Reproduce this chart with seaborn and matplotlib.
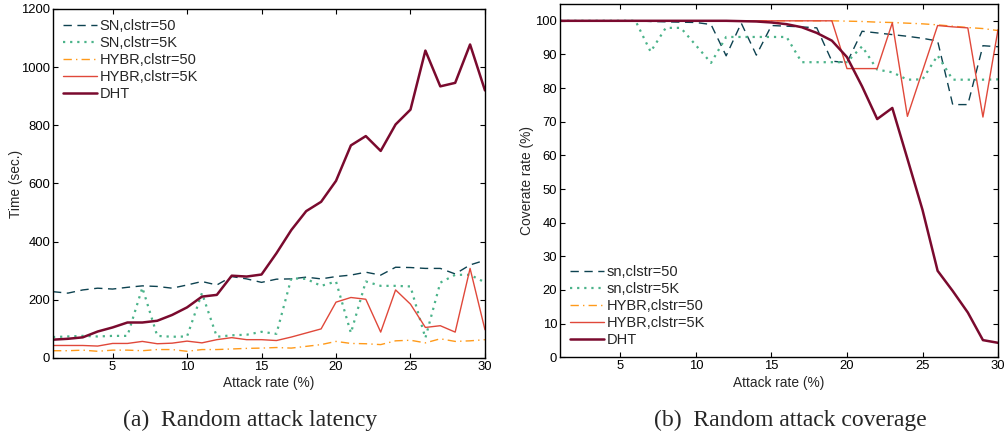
import numpy as np
import pandas as pd
import matplotlib
matplotlib.use("Agg")
import matplotlib.pyplot as plt
import seaborn as sns

attack_rate = list(range(1, 31))

# (a) latency, seconds
lat_sn50 = [228, 223, 234, 240, 237, 243, 248, 246, 240, 251, 263, 251, 280, 272, 260,
            271, 272, 278, 272, 280, 285, 295, 285, 312, 311, 308, 308, 289, 320, 336]
lat_sn5k = [72, 74, 76, 74, 76, 76, 242, 76, 73, 74, 223, 73, 78, 80, 90,
            83, 274, 272, 248, 263, 86, 263, 248, 248, 246, 69, 259, 286, 286, 260]
lat_hy50 = [25, 25, 27, 23, 27, 27, 25, 29, 29, 23, 29, 29, 31, 33, 34,
            36, 34, 40, 46, 57, 50, 49, 46, 59, 61, 52, 66, 57, 59, 63]
lat_hy5k = [43, 43, 43, 41, 50, 50, 57, 49, 51, 58, 52, 63, 70, 63, 63,
            60, 72, 86, 100, 192, 208, 202, 89, 234, 185, 105, 111, 89, 308, 97]
lat_dht = [63, 66, 71, 91, 105, 122, 122, 128, 148, 174, 211, 217, 283, 280, 287,
           360, 440, 505, 537, 609, 731, 763, 712, 803, 854, 1057, 934, 946, 1078, 920]

# (b) coverage, %
cov_sn50 = [100, 100, 100, 100, 100, 100, 99.8, 99.7, 99.6, 99.5, 98.9, 89.6, 99.3, 89.8, 98.6,
            98.4, 98.2, 97.9, 88.0, 87.6, 96.9, 96.4, 95.9, 95.4, 94.8, 94.0, 75.1, 75.1, 92.6, 92.3]
cov_sn5k = [100, 100, 100, 100, 100, 100, 90.8, 97.9, 97.9, 92.7, 87.5, 95.2, 95.2, 95.2, 95.2,
            95.2, 87.7, 87.7, 87.7, 87.7, 92.4, 85.5, 84.7, 82.5, 82.6, 89.7, 82.5, 82.5, 82.5, 82.6]
cov_hy50 = [100, 100, 100, 100, 100, 100, 100, 100, 100, 100, 100, 100, 100, 100, 100,
            100, 100, 100, 100, 99.9, 99.8, 99.6, 99.5, 99.3, 99.1, 98.8, 98.4, 98.0, 97.7, 97.1]
cov_hy5k = [100, 100, 100, 100, 100, 100, 100, 100, 100, 100, 100, 100, 100, 100, 100,
            100, 100, 100, 100, 85.8, 85.8, 85.8, 99.4, 71.6, 85.1, 98.6, 98.2, 97.9, 71.4, 97.4]
cov_dht = [100, 100, 100, 100, 100, 100, 100, 100, 100, 100, 100, 100, 99.9, 99.8, 99.5,
           99.0, 98.1, 96.4, 94.1, 89.2, 80.5, 70.8, 74.1, 59.0, 43.8, 25.7, 19.7, 13.3, 5.1, 4.3]

labels_a = ["SN,clstr=50", "SN,clstr=5K", "HYBR,clstr=50", "HYBR,clstr=5K", "DHT"]
labels_b = ["sn,clstr=50", "sn,clstr=5K", "HYBR,clstr=50", "HYBR,clstr=5K", "DHT"]

colors = ["#0d4250", "#4bb38a", "#ff9a1a", "#e0483a", "#7a0a2e"]
styles = [(0, (6, 4)), (0, (1, 2.2)), (0, (6, 3, 1, 3)), "-", "-"]
widths = [1.0, 1.6, 1.0, 1.0, 1.8]

sns.set_style("ticks")
plt.rcParams["font.family"] = ["Liberation Sans", "DejaVu Sans"]
plt.rcParams["font.size"] = 10

fig = plt.figure(figsize=(10.07, 4.43), dpi=100)
ax1 = fig.add_axes([0.0526, 0.1919, 0.429, 0.7878])
ax2 = fig.add_axes([0.5561, 0.1935, 0.435, 0.7975])

TICK_FS = 9.4
LAB_FS = 9.9
LEG_FS = 10.5


def draw(ax, series, labels):
    for vals, lab, c, ls, lw in zip(series, labels, colors, styles, widths):
        sns.lineplot(x=attack_rate, y=vals, ax=ax, color=c, linestyle=ls,
                     linewidth=lw, label=lab)
    ax.set_xlim(1, 30)
    ax.set_xticks([5, 10, 15, 20, 25, 30])
    ax.tick_params(direction="in", top=True, right=True, length=3.5, width=0.8,
                   labelsize=TICK_FS, colors="black", pad=2)
    for s in ax.spines.values():
        s.set_color("black")
        s.set_linewidth(1.0)
    ax.set_xlabel("Attack rate (%)", fontsize=LAB_FS, labelpad=2.5)


draw(ax1, [lat_sn50, lat_sn5k, lat_hy50, lat_hy5k, lat_dht], labels_a)
ax1.set_ylim(0, 1200)
ax1.set_yticks(range(0, 1201, 200))
ax1.set_ylabel("Time (sec.)", fontsize=LAB_FS, labelpad=-1)
ax1.legend(loc="upper left", frameon=False, fontsize=LEG_FS, handlelength=2.3,
           handletextpad=0.2, labelspacing=0.2, borderaxespad=0.3,
           bbox_to_anchor=(0.0, 1.0))

draw(ax2, [cov_sn50, cov_sn5k, cov_hy50, cov_hy5k, cov_dht], labels_b)
ax2.set_ylim(0, 105)
ax2.set_yticks(range(0, 101, 10))
ax2.set_ylabel("Coverate rate (%)", fontsize=LAB_FS, labelpad=1)
ax2.legend(loc="lower left", frameon=False, fontsize=LEG_FS, handlelength=2.3,
           handletextpad=0.2, labelspacing=0.2, borderaxespad=0.3,
           bbox_to_anchor=(0.0, 0.0))

serif = ["Liberation Serif", "DejaVu Serif"]
fig.text(0.248, 0.052, "(a)  Random attack latency", ha="center", va="center",
         fontsize=17, family=serif)
fig.text(0.785, 0.052, "(b)  Random attack coverage", ha="center", va="center",
         fontsize=17, family=serif)

fig.savefig("out.png", dpi=100)
